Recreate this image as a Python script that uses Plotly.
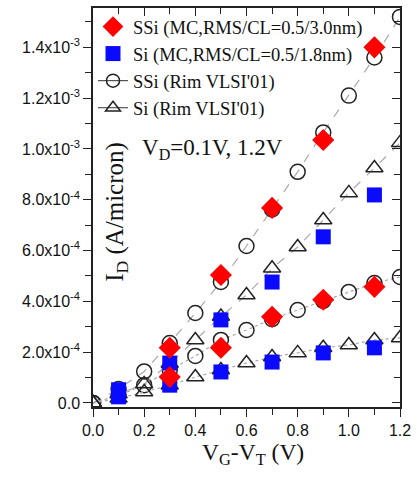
import plotly.graph_objects as go

# ---- data ----
vg_mc = [0.1, 0.3, 0.5, 0.7, 0.9, 1.1]
vg_mc_ssi = [0.3, 0.5, 0.7, 0.9, 1.1]
ssi_mc_12 = [2.17e-4, 5.04e-4, 7.68e-4, 1.035e-3, 1.40e-3]
ssi_mc_01 = [1.02e-4, 2.17e-4, 3.39e-4, 4.06e-4, 4.57e-4]
si_mc_12 = [5.2e-5, 1.57e-4, 3.27e-4, 4.76e-4, 6.54e-4, 8.19e-4]
si_mc_01 = [2.4e-5, 7.0e-5, 1.22e-4, 1.61e-4, 1.97e-4, 2.17e-4]

vg_rim = [0.0, 0.1, 0.2, 0.3, 0.4, 0.5, 0.6, 0.7, 0.8, 0.9, 1.0, 1.1, 1.2]
ssi_rim_12 = [0.0, 5.5e-5, 1.24e-4, 2.36e-4, 3.54e-4, 4.76e-4, 6.18e-4, 7.62e-4,
              9.10e-4, 1.065e-3, 1.21e-3, 1.36e-3, 1.52e-3]
ssi_rim_01 = [0.0, 3.0e-5, 7.0e-5, 1.3e-4, 1.85e-4, 2.48e-4, 2.87e-4, 3.30e-4,
              3.66e-4, 4.02e-4, 4.37e-4, 4.72e-4, 4.96e-4]
si_rim_12 = [0.0, 3.5e-5, 7.5e-5, 1.55e-4, 2.48e-4, 3.40e-4, 4.25e-4, 5.30e-4,
             6.14e-4, 7.20e-4, 8.27e-4, 9.25e-4, 1.024e-3]
si_rim_01 = [0.0, 1.8e-5, 4.3e-5, 7.0e-5, 1.02e-4, 1.30e-4, 1.57e-4, 1.81e-4,
             1.97e-4, 2.17e-4, 2.28e-4, 2.48e-4, 2.56e-4]

y_tickvals = [0, 2e-4, 4e-4, 6e-4, 8e-4, 1.0e-3, 1.2e-3, 1.4e-3]
y_ticktext = ["0.0", "2.0x10<sup>-4</sup>", "4.0x10<sup>-4</sup>", "6.0x10<sup>-4</sup>",
              "8.0x10<sup>-4</sup>", "1.0x10<sup>-3</sup>", "1.2x10<sup>-3</sup>",
              "1.4x10<sup>-3</sup>"]

names = ["SSi (MC,RMS/CL=0.5/3.0nm)", "Si (MC,RMS/CL=0.5/1.8nm)",
         "SSi (Rim VLSI'01)", "Si (Rim VLSI'01)"]

RED = "#ff0000"
BLUE = "#0a0aff"
GRAY = "#a8a8a8"
DARK = "#222222"
SERIF = "Liberation Serif"
SANS = "Liberation Sans"

fig = go.Figure()

# Rim lines + open markers
circ = dict(symbol="circle-open", size=15, color=DARK, line=dict(width=1.5, color=DARK))
tri = dict(symbol="triangle-up-open", size=15, color=DARK, line=dict(width=1.5, color=DARK))
for ys, dash, mk in [(ssi_rim_12, "dash", circ), (ssi_rim_01, "dot", circ),
                     (si_rim_12, "dash", tri), (si_rim_01, "dot", tri)]:
    fig.add_trace(go.Scatter(x=vg_rim, y=ys, mode="lines+markers",
                             line=dict(color=GRAY, width=1.2, dash=dash),
                             marker=mk, showlegend=False))

sq = dict(symbol="square", size=15, color=BLUE, line=dict(width=0))
dm = dict(symbol="diamond", size=17, color=RED, line=dict(width=0))
fig.add_trace(go.Scatter(x=vg_mc, y=si_mc_12, mode="markers", marker=sq,
                         name=names[1], legendgroup="b", legendrank=2))
fig.add_trace(go.Scatter(x=vg_mc, y=si_mc_01, mode="markers", marker=sq,
                         showlegend=False))
fig.add_trace(go.Scatter(x=vg_mc_ssi, y=ssi_mc_12, mode="markers", marker=dm,
                         name=names[0], legendgroup="a", legendrank=1))
fig.add_trace(go.Scatter(x=vg_mc_ssi, y=ssi_mc_01, mode="markers", marker=dm,
                         showlegend=False))

# legend-only entries for Rim data
fig.add_trace(go.Scatter(x=[None], y=[None], mode="lines+markers", name=names[2],
                         line=dict(color="#555555", width=1.2), marker=dict(circ, size=13),
                         legendrank=3))
fig.add_trace(go.Scatter(x=[None], y=[None], mode="lines+markers", name=names[3],
                         line=dict(color="#555555", width=1.2), marker=dict(tri, size=13),
                         legendrank=4))

# overlay axes for inward ticks on top/right
fig.add_trace(go.Scatter(x=[], y=[], xaxis="x2", yaxis="y2", showlegend=False,
                         hoverinfo="skip"))

XR = [0, 1.2]
YR = [-1.6e-5, 1.555e-3]

fig.update_layout(
    width=419, height=477,
    margin=dict(l=93, r=12, t=8, b=70),
    paper_bgcolor="white", plot_bgcolor="white",
    showlegend=True,
    legend=dict(x=0.0, y=1.0, xanchor="left", yanchor="top",
                bgcolor="rgba(0,0,0,0)", font=dict(family=SERIF, size=18.5, color="#111"),
                tracegroupgap=0, itemsizing="trace"),
    xaxis=dict(range=XR, showgrid=False, zeroline=False, showline=True,
               linecolor="#222", linewidth=1.5, ticks="outside", ticklen=8,
               tickwidth=1.2, tickcolor="#222", tickmode="linear", tick0=0, dtick=0.2,
               tickformat=".1f", tickfont=dict(family=SANS, size=16, color="#111"),
               minor=dict(tickmode="linear", tick0=0, dtick=0.1, ticks="outside",
                          ticklen=6, tickwidth=1.2, tickcolor="#222")),
    yaxis=dict(range=YR, showgrid=False, zeroline=False, showline=True,
               linecolor="#222", linewidth=1.5, ticks="outside", ticklen=8,
               tickwidth=1.2, tickcolor="#222", tickmode="array",
               tickvals=y_tickvals, ticktext=y_ticktext,
               tickfont=dict(family=SANS, size=16, color="#111"),
               minor=dict(tickmode="linear", tick0=0, dtick=1e-4, ticks="outside",
                          ticklen=6, tickwidth=1.2, tickcolor="#222")),
    xaxis2=dict(range=XR, overlaying="x", side="top", anchor="y", showgrid=False,
                zeroline=False, showline=True, linecolor="#222", linewidth=1.5,
                ticks="inside", ticklen=8, tickwidth=1.2, tickcolor="#222",
                tickmode="linear", tick0=0, dtick=0.2, showticklabels=False,
                minor=dict(tickmode="linear", tick0=0, dtick=0.1, ticks="inside",
                           ticklen=6, tickwidth=1.2, tickcolor="#222")),
    yaxis2=dict(range=YR, overlaying="y", side="right", anchor="x", showgrid=False,
                zeroline=False, showline=True, linecolor="#222", linewidth=1.5,
                ticks="inside", ticklen=8, tickwidth=1.2, tickcolor="#222",
                tickmode="array", tickvals=y_tickvals, showticklabels=False,
                minor=dict(tickmode="linear", tick0=0, dtick=1e-4, ticks="inside",
                           ticklen=6, tickwidth=1.2, tickcolor="#222")),
    annotations=[
        dict(text="I<sub>D</sub> (A/micron)", textangle=-90, xref="paper", yref="paper",
             x=0.076, y=0.49, xanchor="center", yanchor="middle", showarrow=False,
             font=dict(family=SERIF, size=25, color="#111")),
        dict(text="V<sub>D</sub>=0.1V, 1.2V", xref="paper", yref="paper",
             x=0.389, y=0.646, xanchor="center", yanchor="middle", showarrow=False,
             font=dict(family=SERIF, size=23, color="#111")),
        dict(text="V<sub>G</sub>-V<sub>T</sub> (V)", xref="paper", yref="paper",
             x=0.522, y=-0.118, xanchor="center", yanchor="middle", showarrow=False,
             font=dict(family=SERIF, size=23.5, color="#111")),
    ],
)

fig.write_html("out.html", config={"displayModeBar": False},
               post_script="document.body.style.margin='0px';")
